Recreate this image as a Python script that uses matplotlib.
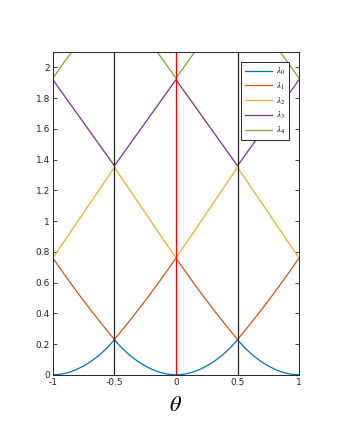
import numpy as np
import matplotlib.pyplot as plt

plt.rcParams['mathtext.fontset'] = 'stix'

# band values, theta from -1 to 1 in steps of 1/16
theta = np.linspace(-1, 1, 33)

half0 = [0.0, 0.004, 0.015, 0.033, 0.058, 0.089, 0.127, 0.173, 0.228]
half1 = [0.76, 0.688, 0.618, 0.549, 0.482, 0.417, 0.353, 0.291, 0.23]
half2 = [0.76, 0.834, 0.907, 0.981, 1.055, 1.129, 1.203, 1.276, 1.35]
half3 = [1.92, 1.85, 1.78, 1.71, 1.64, 1.57, 1.50, 1.43, 1.36]
half4 = [1.93, 2.0, 2.07, 2.14, 2.21, 2.28, 2.35, 2.42, 2.49]


def full(h):
    # 0 -> 0.5 -> 1, mirrored for negative theta
    right = h + h[-2::-1]
    return np.array(right[:0:-1] + right)


bands = [full(half0), full(half1), full(half2), full(half3), full(half4)]
labels = [r'$\lambda_0$', r'$\lambda_1$', r'$\lambda_2$', r'$\lambda_3$', r'$\lambda_4$']
colors = ['#0072BD', '#D95319', '#EDB120', '#7E2F8E', '#77AC30']

black_lines = [-0.5, 0.5]
red_line = 0.0

fig = plt.figure(figsize=(3.41, 4.41), dpi=100)
ax = fig.add_axes([0.155, 0.150, 0.722, 0.732])

for b, lab, c in zip(bands, labels, colors):
    ax.plot(theta, b, color=c, lw=0.9, label=lab)

for xv in black_lines:
    ax.axvline(xv, color='#262626', lw=0.9)
ax.axvline(red_line, color='red', lw=0.9)

ax.set_xlim(-1, 1)
ax.set_ylim(0, 2.1)
ax.set_xticks([-1, -0.5, 0, 0.5, 1])
ax.set_xticklabels(['-1', '-0.5', '0', '0.5', '1'])
ax.set_yticks(np.arange(0, 2.01, 0.2))
ax.set_yticklabels(['0', '0.2', '0.4', '0.6', '0.8', '1', '1.2', '1.4', '1.6', '1.8', '2'])
ax.tick_params(direction='in', length=3, width=0.6, labelsize=6.5,
               colors='#262626', top=True, right=True, pad=2)
for s in ax.spines.values():
    s.set_color('#262626')
    s.set_linewidth(0.7)

ax.set_xlabel(r'$\theta$', fontsize=16, labelpad=6)

leg = ax.legend(loc='upper right', bbox_to_anchor=(0.961, 0.970), borderaxespad=0,
                fontsize=6.5, handlelength=2.9, fancybox=False, framealpha=1,
                edgecolor='#262626', labelspacing=0.4, handletextpad=0.5,
                borderpad=0.45)
leg.get_frame().set_linewidth(0.7)

fig.savefig('out.png', dpi=100)
